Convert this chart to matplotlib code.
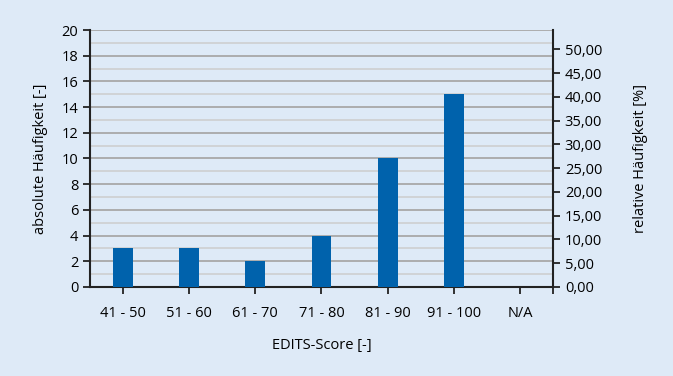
import matplotlib.pyplot as plt
import numpy as np
from matplotlib.ticker import MultipleLocator, FuncFormatter

plt.rcParams['font.family'] = ['Open Sans', 'DejaVu Sans']

# Daten
categories = ['41 - 50', '51 - 60', '61 - 70', '71 - 80', '81 - 90', '91 - 100', 'N/A']
counts = [3, 3, 2, 4, 10, 15, 0]

bg = '#deeaf7'
bar_color = '#0062ac'
fs = 10.5

fig = plt.figure(figsize=(6.73, 3.76), dpi=100, facecolor=bg)
ax = fig.add_axes([0.1337, 0.237, 0.688, 0.683])
ax.set_facecolor(bg)

x = np.arange(len(categories))
ax.bar(x, counts, width=0.3, color=bar_color, zorder=3)

ax.set_xlim(-0.5, len(categories) - 0.5)
ax.set_ylim(0, 20)
ax.yaxis.set_major_locator(MultipleLocator(2))
ax.yaxis.set_minor_locator(MultipleLocator(1))
ax.grid(which='major', axis='y', color='#a8a8a8', lw=1.3, zorder=0)
ax.grid(which='minor', axis='y', color='#cccccc', lw=1.1, zorder=0)
ax.tick_params(axis='y', which='minor', length=0)

ax.set_xticks(list(x) + [len(categories) - 0.5])
ax.set_xticklabels(categories + [''])
ax.tick_params(axis='both', which='major', labelsize=fs, length=5, width=1.3, color='#222222')
ax.tick_params(axis='x', pad=9)

for s in ['left', 'bottom']:
    ax.spines[s].set_linewidth(1.5)
    ax.spines[s].set_color('#222222')
ax.spines['top'].set_visible(False)
ax.spines['right'].set_visible(False)

ax.set_ylabel('absolute Häufigkeit [-]', fontsize=fs, labelpad=10)
ax.set_xlabel('EDITS-Score [-]', fontsize=fs, labelpad=12)

# rechte Achse in Prozent
total = sum(counts)
ax2 = ax.twinx()
ax2.set_ylim(0, 20 / total * 100)
ax2.yaxis.set_major_locator(MultipleLocator(5))
ax2.yaxis.set_major_formatter(FuncFormatter(lambda v, p: f'{v:.2f}'.replace('.', ',')))
ax2.tick_params(axis='y', labelsize=fs, length=5, width=1.3, color='#222222')
ax2.spines['right'].set_linewidth(1.5)
ax2.spines['right'].set_color('#222222')
for s in ['left', 'bottom', 'top']:
    ax2.spines[s].set_visible(False)
ax2.set_ylabel('relative Häufigkeit [%]', fontsize=fs, labelpad=22)

fig.savefig('out.png', dpi=100, facecolor=bg)
